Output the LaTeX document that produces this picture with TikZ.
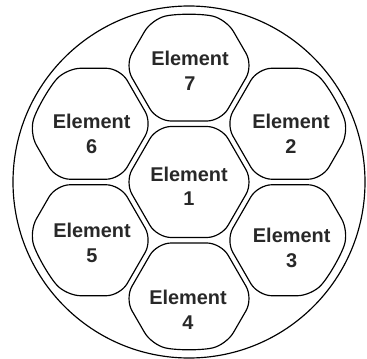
\documentclass[tikz,border=0pt]{standalone}
\usepackage{fontspec}
\setmainfont{Liberation Sans}
\usetikzlibrary{positioning}
\definecolor{celltext}{RGB}{40,40,40}

\begin{document}
\begin{tikzpicture}[
    cell/.style={draw=black, line width=1pt, rounded corners=12pt},
    rim/.style={draw=black, line width=1pt},
    elabel/.style={font=\bfseries\fontsize{17}{21}\selectfont,
      text=celltext, align=center, inner sep=0pt},
  ]
    \useasboundingbox (-5.67,-5.28) rectangle (5.34,5.46);

    %── outer ring ──────────────────────────────────────────────────────
    \draw[rim] (0,0) circle (5.28);

    %── centre cell ─────────────────────────────────────────────────────
    \draw[cell] (0:1.9226) -- (60:1.9226) -- (120:1.9226) -- (180:1.9226)
      -- (240:1.9226) -- (300:1.9226) -- cycle;

    %── outer cells: one cut hexagon, turned six times ──────────────────
    \foreach \a in {0,60,...,300}
      \draw[cell, rotate=\a] (-1.9226,3.495) -- (-0.9613,1.83) -- (0.9613,1.83)
        -- (1.9226,3.495) -- (77.07:5.01)
        arc[start angle=77.07, end angle=102.93, radius=5.01] -- cycle;

    %── labels ──────────────────────────────────────────────────────────
    \foreach \n/\x/\y in {1/0/-0.13, 2/3.06/1.44, 3/3.08/-1.98, 4/-0.03/-3.83,
                          5/-2.91/-1.82, 6/-2.92/1.45, 7/0.03/3.33}
      \node[elabel] (el\n) at (\x,\y) {Element\\\n};
\end{tikzpicture}
\end{document}
